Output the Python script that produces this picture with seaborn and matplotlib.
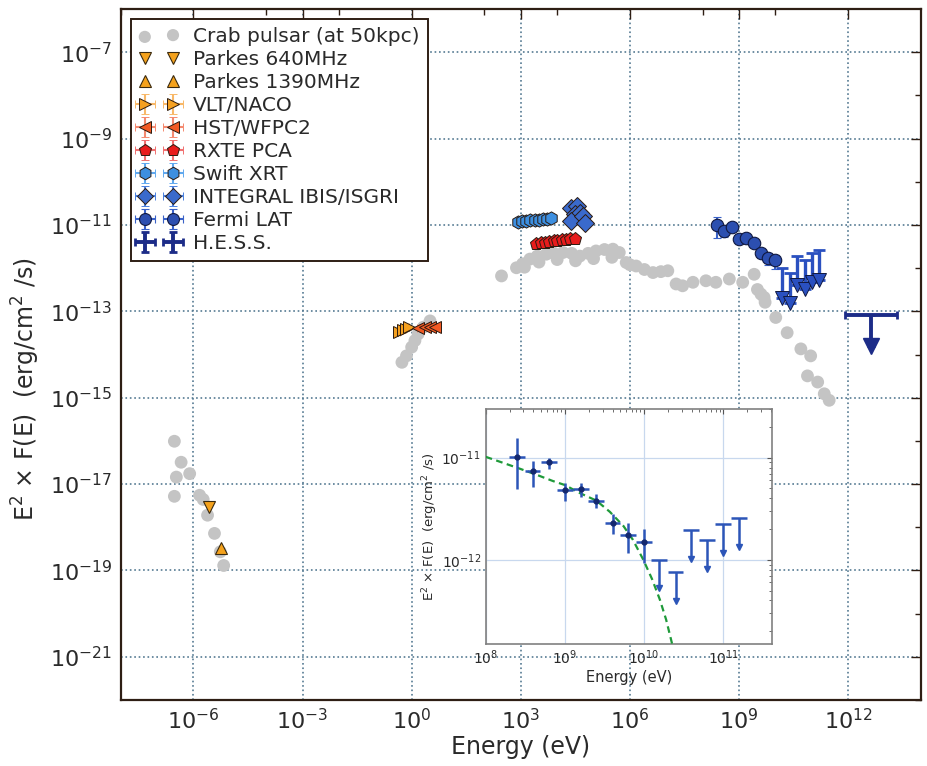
import numpy as np
import pandas as pd
import matplotlib
matplotlib.use("Agg")
import matplotlib.pyplot as plt
from matplotlib.ticker import NullFormatter, LogFormatterSciNotation
import seaborn as sns

# ---- data (energy in eV, E^2 F(E) in erg/cm^2/s) ----
crab_e = [3.0e-7, 4.6e-7, 3.4e-7, 7.9e-7, 3.0e-7, 1.48e-6, 1.86e-6, 2.45e-6, 3.8e-6, 5.5e-6, 6.8e-6,
          0.54, 0.72, 1.0, 1.23, 1.51, 2.1, 3.2,
          295, 760, 1120, 1780, 2820, 5000, 7900, 1.45e4, 2.5e4, 4.2e4, 7.1e4, 1.17e5, 2.0e5, 3.4e5,
          5.1e5, 7.9e5, 1.48e6, 2.5e6, 4.3e6, 7.1e6, 1.1e7, 1.86e7,
          1260, 3160, 1.0e4, 3.2e4, 1.0e5, 3.2e5, 1.0e6,
          2.8e7, 5.4e7, 1.23e8, 2.3e8, 5.4e8, 1.26e9, 2.6e9, 3.2e9, 4.0e9, 4.9e9, 5.2e9, 1.02e10,
          2.1e10, 5.0e10, 9.3e10, 7.6e10, 1.45e11, 2.2e11, 3.0e11]
crab_f = [9.8e-17, 3.2e-17, 1.45e-17, 1.74e-17, 5.2e-18, 5.5e-18, 4.4e-18, 1.9e-18, 7.2e-19, 2.7e-19, 1.3e-19,
          6.6e-15, 9.3e-15, 1.48e-14, 2.1e-14, 3.0e-14, 4.3e-14, 6.0e-14,
          6.6e-13, 1.02e-12, 1.26e-12, 1.62e-12, 1.9e-12, 2.1e-12, 2.24e-12, 2.3e-12, 2.2e-12, 1.9e-12,
          2.2e-12, 2.5e-12, 2.7e-12, 2.75e-12, 2.3e-12, 1.35e-12, 1.12e-12, 9.3e-13, 7.9e-13, 8.3e-13,
          8.7e-13, 4.3e-13,
          1.05e-12, 1.38e-12, 1.58e-12, 1.48e-12, 1.66e-12, 1.78e-12, 1.2e-12,
          3.9e-13, 4.7e-13, 5.1e-13, 4.7e-13, 5.6e-13, 4.7e-13, 7.2e-13, 3.2e-13, 2.5e-13, 2.1e-13,
          1.62e-13, 7.2e-14, 3.2e-14, 1.35e-14, 9.3e-15, 3.2e-15, 2.3e-15, 1.23e-15, 8.7e-16]

parkes640_e, parkes640_f = [2.65e-6], [2.9e-18]
parkes1390_e, parkes1390_f = [5.75e-6], [3.3e-19]

vlt_e = [0.45, 0.56, 0.68, 0.82]
vlt_f = [3.4e-14, 3.7e-14, 4.0e-14, 4.3e-14]
hst_e = [1.48, 2.3, 3.2, 4.4]
hst_f = [4.1e-14, 4.3e-14, 4.4e-14, 4.3e-14]

rxte_e = [2690, 3550, 4570, 6030, 7940, 1.02e4, 1.35e4, 1.78e4, 2.29e4, 3.02e4]
rxte_f = [3.6e-12, 3.75e-12, 3.9e-12, 4.0e-12, 4.15e-12, 4.3e-12, 4.4e-12, 4.5e-12, 4.65e-12, 4.8e-12]
swift_e = [832, 1070, 1410, 1820, 2400, 3160, 4070, 5370, 6920]
swift_f = [1.20e-11, 1.22e-11, 1.24e-11, 1.27e-11, 1.30e-11, 1.33e-11, 1.36e-11, 1.40e-11, 1.45e-11]
integral_e = [2.45e4, 3.4e4, 3.0e4, 4.2e4, 2.45e4, 5.1e4, 6.0e4]
integral_f = [2.5e-11, 2.75e-11, 1.78e-11, 1.9e-11, 1.23e-11, 1.62e-11, 1.12e-11]

fermi_e = [2.5e8, 3.9e8, 6.3e8, 1.0e9, 1.6e9, 2.5e9, 4.0e9, 6.3e9, 1.0e10]
fermi_f = [1.02e-11, 7.4e-12, 9.1e-12, 4.8e-12, 4.9e-12, 3.8e-12, 2.3e-12, 1.74e-12, 1.51e-12]
fermi_f_lo = [4.9e-12, 5.2e-12, 7.8e-12, 3.8e-12, 4.1e-12, 3.2e-12, 1.78e-12, 1.17e-12, 9.3e-13]
fermi_f_hi = [1.55e-11, 9.3e-12, 1.0e-11, 5.6e-12, 5.6e-12, 4.4e-12, 2.8e-12, 2.3e-12, 2.0e-12]
fermi_ul_e = [1.55e10, 2.5e10, 3.9e10, 6.3e10, 1.0e11, 1.6e11]
fermi_ul_f = [1.0e-12, 7.6e-13, 1.95e-12, 1.55e-12, 2.24e-12, 2.57e-12]
fermi_bin_dex = 0.1

hess_e, hess_f = [4.2e12], [8.1e-14]
hess_e_lo, hess_e_hi = [8.3e11], [2.2e13]

model_e = [1e8, 1.66e8, 2.7e8, 4.4e8, 7.1e8, 1e9, 1.55e9, 2.5e9, 3.7e9, 5.5e9, 7.2e9, 9.8e9,
           1.26e10, 1.58e10, 1.9e10, 2.24e10, 2.5e10]
model_f = [1.02e-11, 8.9e-12, 7.8e-12, 6.8e-12, 5.9e-12, 5.4e-12, 4.5e-12, 3.8e-12, 2.95e-12,
           2.14e-12, 1.58e-12, 1.0e-12, 6.5e-13, 4.1e-13, 2.6e-13, 1.55e-13, 1.0e-13]

# ---- style ----
sns.set_style("white")
plt.rcParams['font.family'] = ['DejaVu Sans']
plt.rcParams['mathtext.default'] = 'regular'
frame_col = '#2e1e14'
grid_col = '#557a92'
txt_col = '#2a2a2a'

fig = plt.figure(figsize=(9.28, 7.66), dpi=100)
ax = fig.add_axes([0.130, 0.0862, 0.8624, 0.902])

crab_df = pd.DataFrame({'e': crab_e, 'f': crab_f})
sns.scatterplot(data=crab_df, x='e', y='f', ax=ax, s=85, color='#c4c4c4', edgecolor='none',
                label='Crab pulsar (at 50kpc)', zorder=2)

ax.plot(parkes640_e, parkes640_f, 'v', ms=9, color='#f5a21c', mec='#3a2a10', mew=0.8,
        ls='none', label='Parkes 640MHz', zorder=5)
ax.plot(parkes1390_e, parkes1390_f, '^', ms=9, color='#f5a21c', mec='#3a2a10', mew=0.8,
        ls='none', label='Parkes 1390MHz', zorder=5)


def eb(x, y, fmt, col, ecol, label, ms=9, frac=0.06):
    x = np.asarray(x)
    y = np.asarray(y)
    return ax.errorbar(x, y, xerr=frac * x, yerr=frac * y, fmt=fmt, ms=ms, mfc=col, mec='#2a1a10',
                       mew=0.7, ecolor=ecol, elinewidth=1.5, capsize=3, label=label, zorder=5)


eb(vlt_e, vlt_f, '>', '#f5a020', '#f8b868', 'VLT/NACO')
eb(hst_e, hst_f, '<', '#f25a24', '#f48a70', 'HST/WFPC2')
eb(rxte_e, rxte_f, 'p', '#e81c1c', '#f07070', 'RXTE PCA', ms=9.5)
eb(swift_e, swift_f, 'h', '#3d8fe0', '#60a8ee', 'Swift XRT', ms=9.5)
eb(integral_e, integral_f, 'D', '#3a6acc', '#4a80dd', 'INTEGRAL IBIS/ISGRI', ms=9)

fe = np.asarray(fermi_e)
ff = np.asarray(fermi_f)
fermi_xerr = [fe - fe / 10 ** fermi_bin_dex, fe * 10 ** fermi_bin_dex - fe]
fermi_yerr = [ff - np.asarray(fermi_f_lo), np.asarray(fermi_f_hi) - ff]
ax.errorbar(fe, ff, xerr=fermi_xerr, yerr=fermi_yerr, fmt='o', ms=9, mfc='#2c4fb0', mec='#101840',
            mew=0.8, ecolor='#3a62c8', elinewidth=1.5, capsize=3, label='Fermi LAT', zorder=6)

# Fermi upper limits (main)
ue = np.asarray(fermi_ul_e)
uf = np.asarray(fermi_ul_f)
drop = 10 ** -0.68
ax.errorbar(ue, uf, yerr=[uf - uf * drop, np.zeros_like(uf)], fmt='none', ecolor='#2a50c0',
            elinewidth=2.4, capsize=4, capthick=2, zorder=6)
ax.plot(ue, uf * drop, 'v', ls='none', ms=10, color='#2a50c0', mec='#101840', mew=0.7, zorder=7)

# H.E.S.S.
he = np.asarray(hess_e)
hf = np.asarray(hess_f)
hdrop = 10 ** -0.7
ax.errorbar(he, hf, xerr=[he - np.asarray(hess_e_lo), np.asarray(hess_e_hi) - he],
            yerr=[hf - hf * hdrop, np.zeros_like(hf)], fmt='none', ecolor='#1c2c88',
            elinewidth=2.8, capsize=3, capthick=2, label='H.E.S.S.', zorder=6)
ax.plot(he, hf * hdrop, 'v', ls='none', ms=11, color='#1c2c88', zorder=7)

ax.set_xscale('log')
ax.set_yscale('log')
ax.set_xlim(1e-8, 1e14)
ax.set_ylim(1e-22, 1e-6)
ax.set_xticks([10.0 ** k for k in range(-6, 13, 3)])
ax.set_xticks([10.0 ** k for k in range(-8, 14, 2)], minor=True)
ax.set_yticks([10.0 ** k for k in range(-21, -6, 2)])
ax.set_yticks([10.0 ** k for k in range(-22, -6, 2)], minor=True)
ax.xaxis.set_major_formatter(LogFormatterSciNotation())
ax.yaxis.set_major_formatter(LogFormatterSciNotation())
ax.xaxis.set_minor_formatter(NullFormatter())
ax.yaxis.set_minor_formatter(NullFormatter())
ax.tick_params(which='both', direction='in', top=True, right=True, color=frame_col,
               labelsize=16, labelcolor=txt_col, pad=6)
ax.tick_params(which='major', length=7, width=1)
ax.tick_params(which='minor', length=4, width=1)
ax.grid(True, which='major', ls=':', color=grid_col, lw=1.2)
for sp in ax.spines.values():
    sp.set_color(frame_col)
    sp.set_linewidth(1.6)
ax.set_xlabel('Energy (eV)', fontsize=17, color=txt_col, labelpad=1)
ax.set_ylabel('E$^2$ × F(E)  (erg/cm$^2$ /s)', fontsize=17, color=txt_col)
ax.yaxis.set_label_coords(-0.098, 0.45)

leg = ax.legend(loc='upper left', bbox_to_anchor=(0.0, 1.0), borderaxespad=0.5, fontsize=14.5,
                numpoints=2, scatterpoints=2, labelspacing=0.2, handlelength=2.0, handletextpad=0.7,
                fancybox=False, framealpha=1, markerscale=0.95)
leg.get_frame().set_edgecolor(frame_col)
leg.get_frame().set_linewidth(1.4)
for t in leg.get_texts():
    t.set_color(txt_col)

# ---- inset: Fermi LAT spectrum ----
axi = fig.add_axes([0.5234, 0.1593, 0.3082, 0.3068])
sns.lineplot(x=model_e, y=model_f, ax=axi, color='#1f9a3a', lw=1.6, ls=(0, (3, 2)), zorder=3)
axi.errorbar(fe, ff, xerr=fermi_xerr, yerr=fermi_yerr, fmt='o', ms=3.5, mfc='#14286e', mec='#14286e',
             ecolor='#2c55b8', elinewidth=1.8, capsize=0, zorder=4)
idrop = 10 ** -0.28
axi.errorbar(ue, uf, xerr=[ue - ue / 10 ** fermi_bin_dex, ue * 10 ** fermi_bin_dex - ue],
             yerr=[uf - uf * idrop, np.zeros_like(uf)], fmt='none', ecolor='#2c55b8',
             elinewidth=1.8, capsize=0, zorder=4)
axi.plot(ue, uf * idrop, 'v', ls='none', ms=5, color='#2c55b8', zorder=5)
axi.set_xscale('log')
axi.set_yscale('log')
axi.set_xlim(1e8, 4.1e11)
axi.set_ylim(1.5e-13, 3e-11)
axi.set_xticks([1e8, 1e9, 1e10, 1e11])
axi.set_yticks([1e-12, 1e-11])
axi.xaxis.set_major_formatter(LogFormatterSciNotation())
axi.yaxis.set_major_formatter(LogFormatterSciNotation())
axi.xaxis.set_minor_formatter(NullFormatter())
axi.yaxis.set_minor_formatter(NullFormatter())
axi.tick_params(which='both', direction='in', top=True, right=True, labelsize=10,
                labelcolor=txt_col, color='#555555')
axi.tick_params(which='minor', length=2)
axi.grid(True, which='major', ls='-', color='#c8d8ee', lw=0.9)
for sp in axi.spines.values():
    sp.set_color('#808080')
    sp.set_linewidth(1.2)
axi.set_xlabel('Energy (eV)', fontsize=10.5, color=txt_col, labelpad=2)
axi.set_ylabel('E$^2$ × F(E)  (erg/cm$^2$ /s)', fontsize=9.5, color=txt_col, labelpad=1)

fig.savefig('out.png', dpi=100, facecolor='white')
